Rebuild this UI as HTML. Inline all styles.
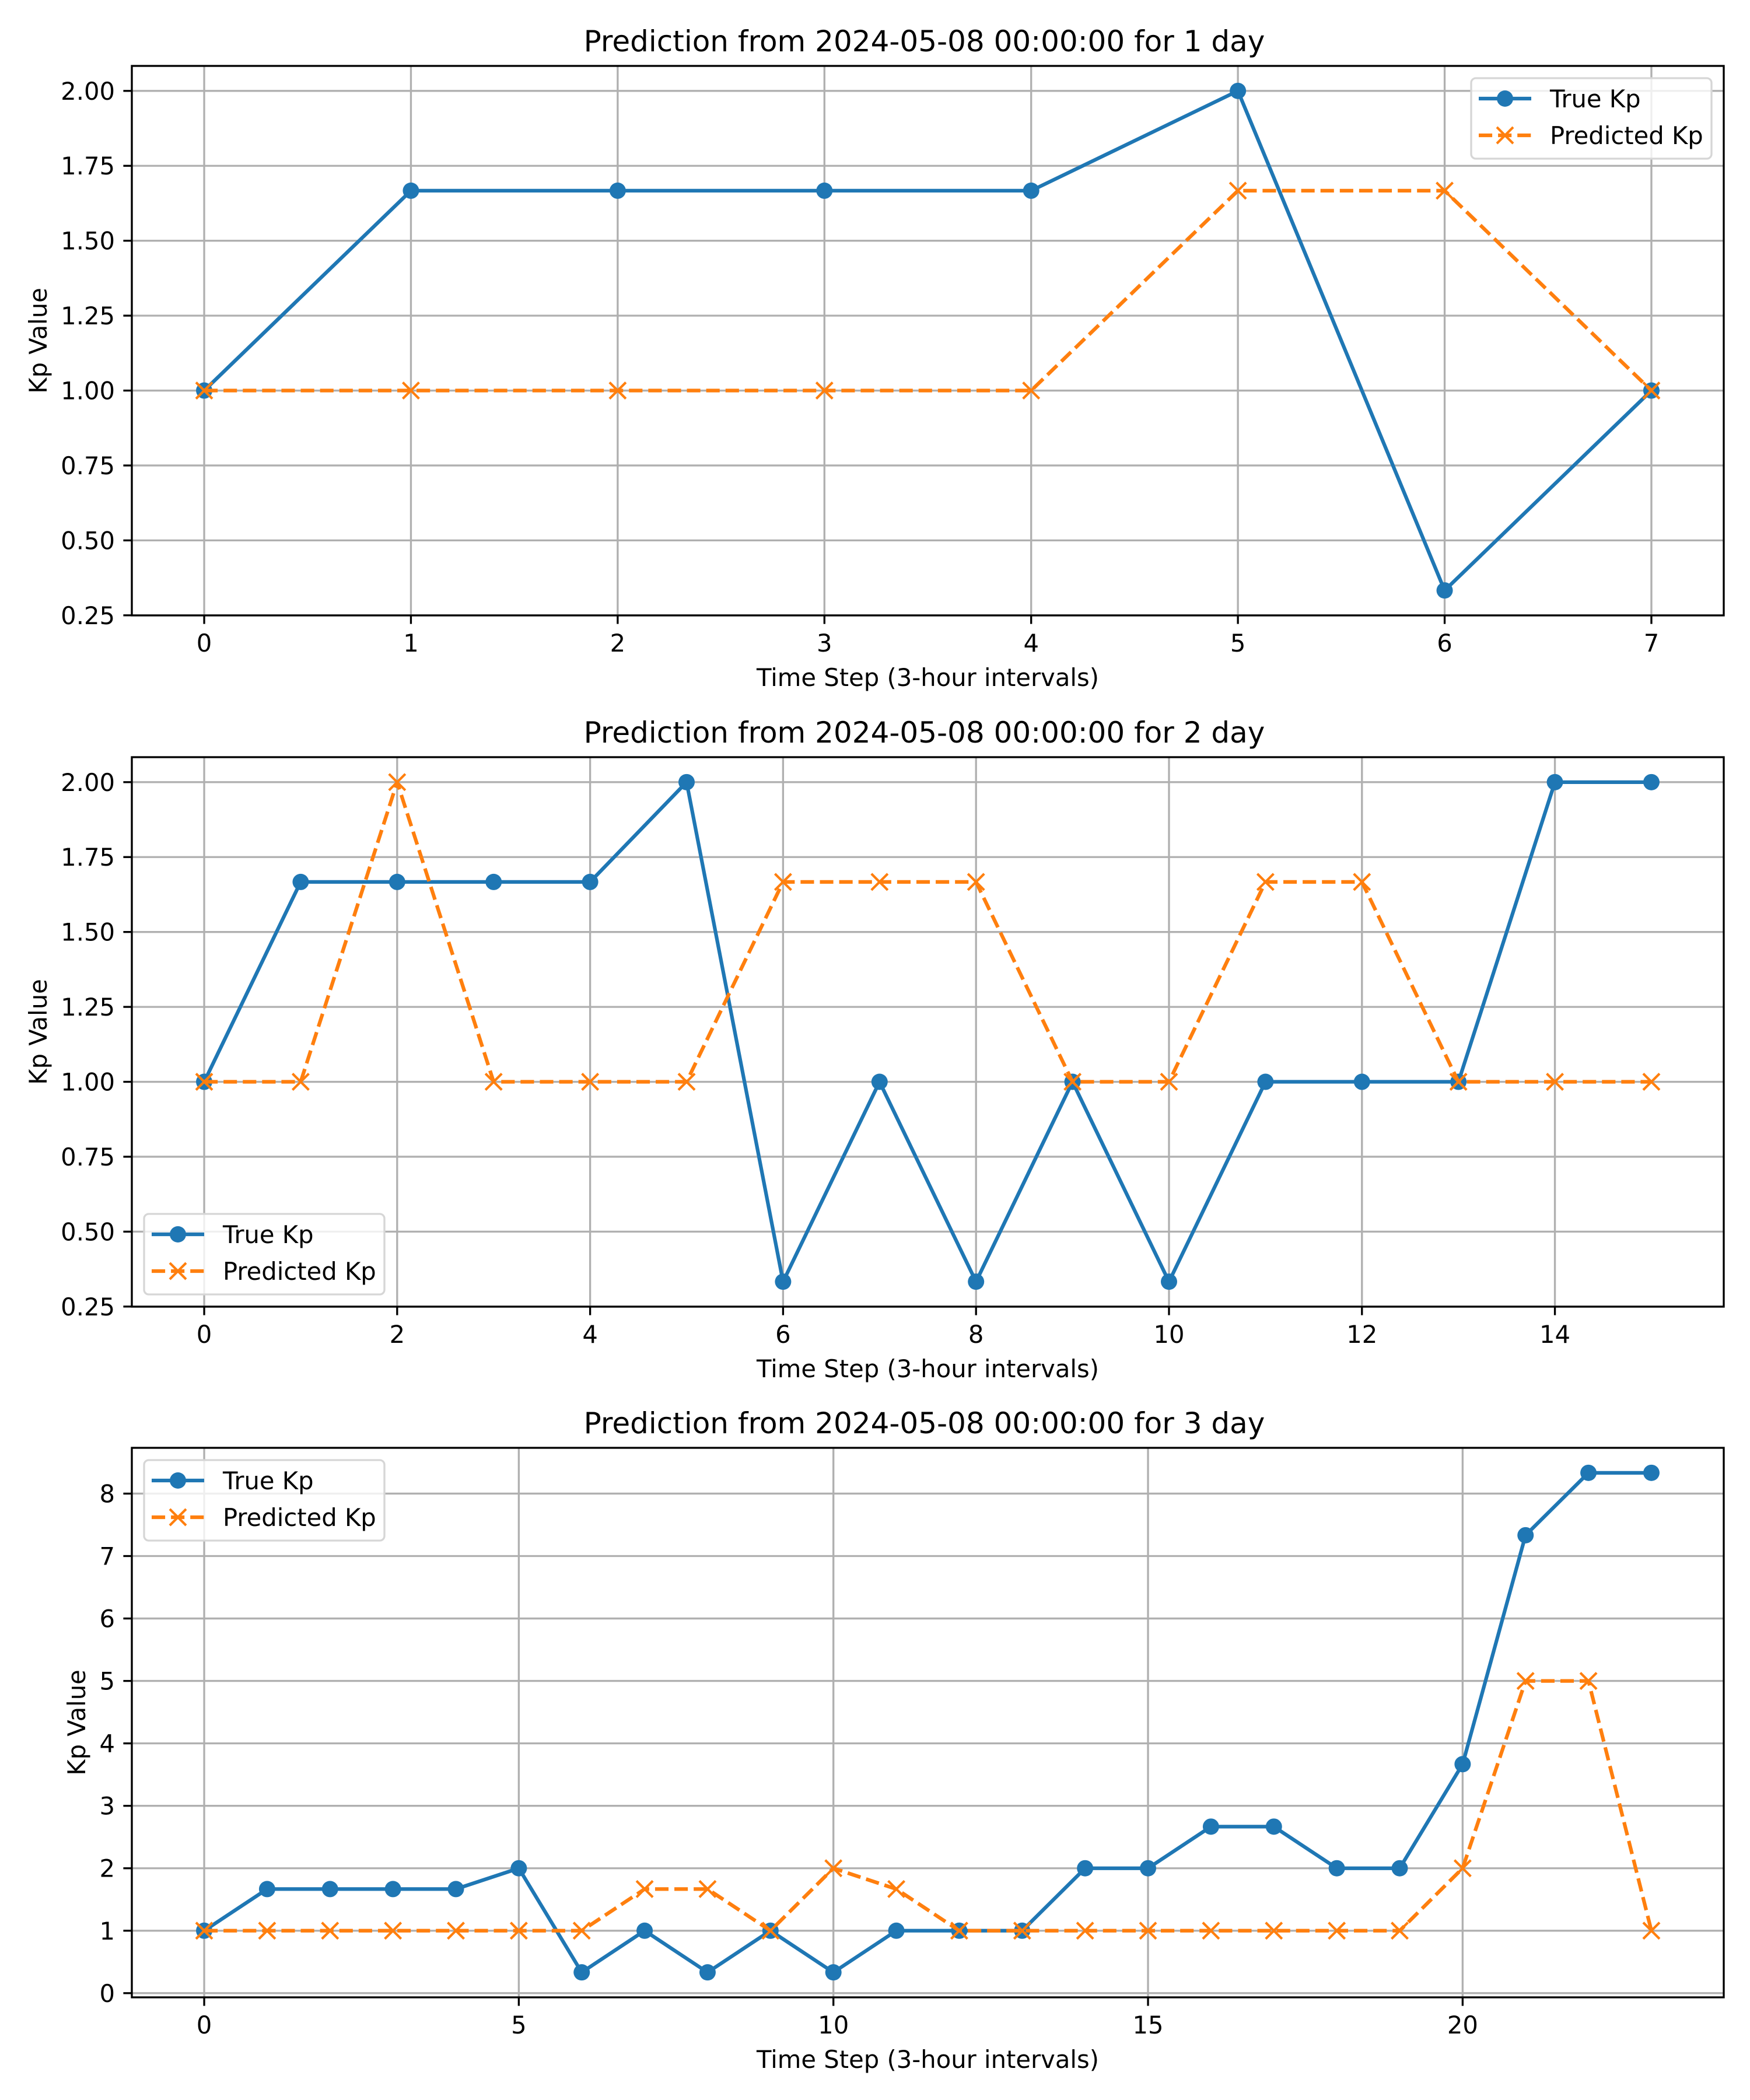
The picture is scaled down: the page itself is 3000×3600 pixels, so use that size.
<!DOCTYPE html>
<html><head><meta charset="utf-8"><style>
html,body{margin:0;padding:0;background:#fff;}
svg{display:block;font-family:"DejaVu Sans","Liberation Sans",sans-serif;}
</style></head><body>
<svg id="fig" width="3000" height="3600" viewBox="0 0 3000 3600" xmlns="http://www.w3.org/2000/svg"></svg>
<script>
// Panel 1 data
const steps1 = [0,1,2,3,4,5,6,7];
const true1 = [1,1.667,1.667,1.667,1.667,2,0.333,1];
const pred1 = [1,1,1,1,1,1.667,1.667,1];
const yTicks1 = [0.25,0.5,0.75,1.0,1.25,1.5,1.75,2.0];
const yLabels1 = ["0.25","0.50","0.75","1.00","1.25","1.50","1.75","2.00"];
const xTicks1 = [0,1,2,3,4,5,6,7];
// Panel 2 data
const steps2 = [0,1,2,3,4,5,6,7,8,9,10,11,12,13,14,15];
const true2 = [1,1.667,1.667,1.667,1.667,2,0.333,1,0.333,1,0.333,1,1,1,2,2];
const pred2 = [1,1,2,1,1,1,1.667,1.667,1.667,1,1,1.667,1.667,1,1,1];
const yTicks2 = [0.25,0.5,0.75,1.0,1.25,1.5,1.75,2.0];
const yLabels2 = ["0.25","0.50","0.75","1.00","1.25","1.50","1.75","2.00"];
const xTicks2 = [0,2,4,6,8,10,12,14];
// Panel 3 data
const steps3 = [0,1,2,3,4,5,6,7,8,9,10,11,12,13,14,15,16,17,18,19,20,21,22,23];
const true3 = [1,1.667,1.667,1.667,1.667,2,0.333,1,0.333,1,0.333,1,1,1,2,2,2.667,2.667,2,2,3.667,7.333,8.333,8.333];
const pred3 = [1,1,1,1,1,1,1,1.667,1.667,1,2,1.667,1,1,1,1,1,1,1,1,2,5,5,1];
const yTicks3 = [0,1,2,3,4,5,6,7,8];
const yLabels3 = ["0","1","2","3","4","5","6","7","8"];
const xTicks3 = [0,5,10,15,20];
const titles = ["Prediction from 2024-05-08 00:00:00 for 1 day","Prediction from 2024-05-08 00:00:00 for 2 day","Prediction from 2024-05-08 00:00:00 for 3 day"];

const NS="http://www.w3.org/2000/svg";
const fig=document.getElementById('fig');
function mk(tag,attrs,parent){const e=document.createElementNS(NS,tag);for(const k in attrs)e.setAttribute(k,attrs[k]);(parent||fig).appendChild(e);return e;}

function panel(idx,top,xs,ts,ps,yt,yl,xt,legendPos,ylabelX){
  const L=226,R=2955,T=top,B=top+942,MR=14;
  const g=mk('g',{});
  
  
  const xmin=Math.min(...xs),xmax=Math.max(...xs);
  const all=ts.concat(ps);const ymin=Math.min(...all),ymax=Math.max(...all);
  const xm=(xmax-xmin)*0.05,ym=(ymax-ymin)*0.05;
  const x0=xmin-xm,x1=xmax+xm,y0=ymin-ym,y1=ymax+ym;
  const sx=v=>L+(v-x0)/(x1-x0)*(R-L);
  const sy=v=>B-(v-y0)/(y1-y0)*(B-T);
  for(const v of xt){const l=mk('line',{x1:sx(v),x2:sx(v),y1:T,y2:B,stroke:'#b0b0b0','stroke-width':3.33},g);
    }
  for(const v of yt){const l=mk('line',{x1:L,x2:R,y1:sy(v),y2:sy(v),stroke:'#b0b0b0','stroke-width':3.33},g);
    }
  const tp=xs.map((x,i)=>sx(x)+','+sy(ts[i])).join(' ');
  const tl=mk('polyline',{points:tp,fill:'none',stroke:'#1f77b4','stroke-width':6.25,'stroke-linejoin':'round','stroke-linecap':'square'},g);
  
  xs.forEach((x,i)=>{const c=mk('circle',{cx:sx(x),cy:sy(ts[i]),r:MR,fill:'#1f77b4'},g);
    });
  const pp=xs.map((x,i)=>sx(x)+','+sy(ps[i])).join(' ');
  const pl=mk('polyline',{points:pp,fill:'none',stroke:'#ff7f0e','stroke-width':6.25,'stroke-dasharray':'23.1 10','stroke-linejoin':'round'},g);
  
  xs.forEach((x,i)=>{const cx=sx(x),cy=sy(ps[i]),d=MR;
    const p=mk('path',{d:`M${cx-d},${cy-d}L${cx+d},${cy+d}M${cx-d},${cy+d}L${cx+d},${cy-d}`,stroke:'#ff7f0e','stroke-width':4.17,fill:'none'},g);
    });
  const sp=mk('rect',{x:L,y:T,width:R-L,height:B-T,fill:'none',stroke:'#000','stroke-width':3.33,'stroke-linejoin':'miter'},g);
  
  xt.forEach(v=>{mk('line',{x1:sx(v),x2:sx(v),y1:B,y2:B+14.6,stroke:'#000','stroke-width':3.33},g);
    const t=mk('text',{x:sx(v),y:B+62,'font-size':41.7,'text-anchor':'middle',fill:'#000'},g);t.textContent=String(v);
    });
  yt.forEach((v,i)=>{mk('line',{x1:L-14.6,x2:L,y1:sy(v),y2:sy(v),stroke:'#000','stroke-width':3.33},g);
    const t=mk('text',{x:L-29,y:sy(v)+15,'font-size':41.7,'text-anchor':'end',fill:'#000'},g);t.textContent=yl[i];
    });
  const ti=mk('text',{x:(L+R)/2-6,y:T-25,'font-size':50,'text-anchor':'middle',fill:'#000'},g);ti.textContent=titles[idx];
  
  const xl=mk('text',{x:(L+R)/2,y:B+121,'font-size':41.7,'text-anchor':'middle',fill:'#000'},g);xl.textContent='Time Step (3-hour intervals)';
  
  const cy=(T+B)/2;
  const yl2=mk('text',{x:ylabelX,y:cy,'font-size':41.7,'text-anchor':'middle',fill:'#000',transform:`rotate(-90 ${ylabelX} ${cy})`},g);yl2.textContent='Kp Value';
  
  const W=412,H=138;let lx,ly;
  if(legendPos==='ur'){lx=R-21-W;ly=T+21;}else if(legendPos==='ll'){lx=L+21;ly=B-21-H;}else{lx=L+21;ly=T+21;}
  const lg=mk('g',{},g);
  mk('rect',{x:lx,y:ly,width:W,height:H,rx:8,ry:8,fill:'rgba(255,255,255,0.8)',stroke:'#d6d6d6','stroke-width':3.33},lg);
  const r1=ly+35,r2=ly+98;
  const e1=mk('g',{},lg);
  mk('line',{x1:lx+13,x2:lx+103,y1:r1,y2:r1,stroke:'#1f77b4','stroke-width':6.25},e1);
  mk('circle',{cx:lx+58,cy:r1,r:MR,fill:'#1f77b4'},e1);
  const t1=mk('text',{x:lx+135,y:r1+15,'font-size':41.7,fill:'#000'},e1);t1.textContent='True Kp';
  const e2=mk('g',{},lg);
  mk('line',{x1:lx+13,x2:lx+103,y1:r2,y2:r2,stroke:'#ff7f0e','stroke-width':6.25,'stroke-dasharray':'23.1 10'},e2);
  const m=lx+58,d=MR;
  mk('path',{d:`M${m-d},${r2-d}L${m+d},${r2+d}M${m-d},${r2+d}L${m+d},${r2-d}`,stroke:'#ff7f0e','stroke-width':4.17},e2);
  const t2=mk('text',{x:lx+135,y:r2+15,'font-size':41.7,fill:'#000'},e2);t2.textContent='Predicted Kp';
}
panel(0,113,steps1,true1,pred1,yTicks1,yLabels1,xTicks1,'ur',80);
panel(1,1298,steps2,true2,pred2,yTicks2,yLabels2,xTicks2,'ll',80);
panel(2,2482,steps3,true3,pred3,yTicks3,yLabels3,xTicks3,'ul',146);
</script>
</body></html>
